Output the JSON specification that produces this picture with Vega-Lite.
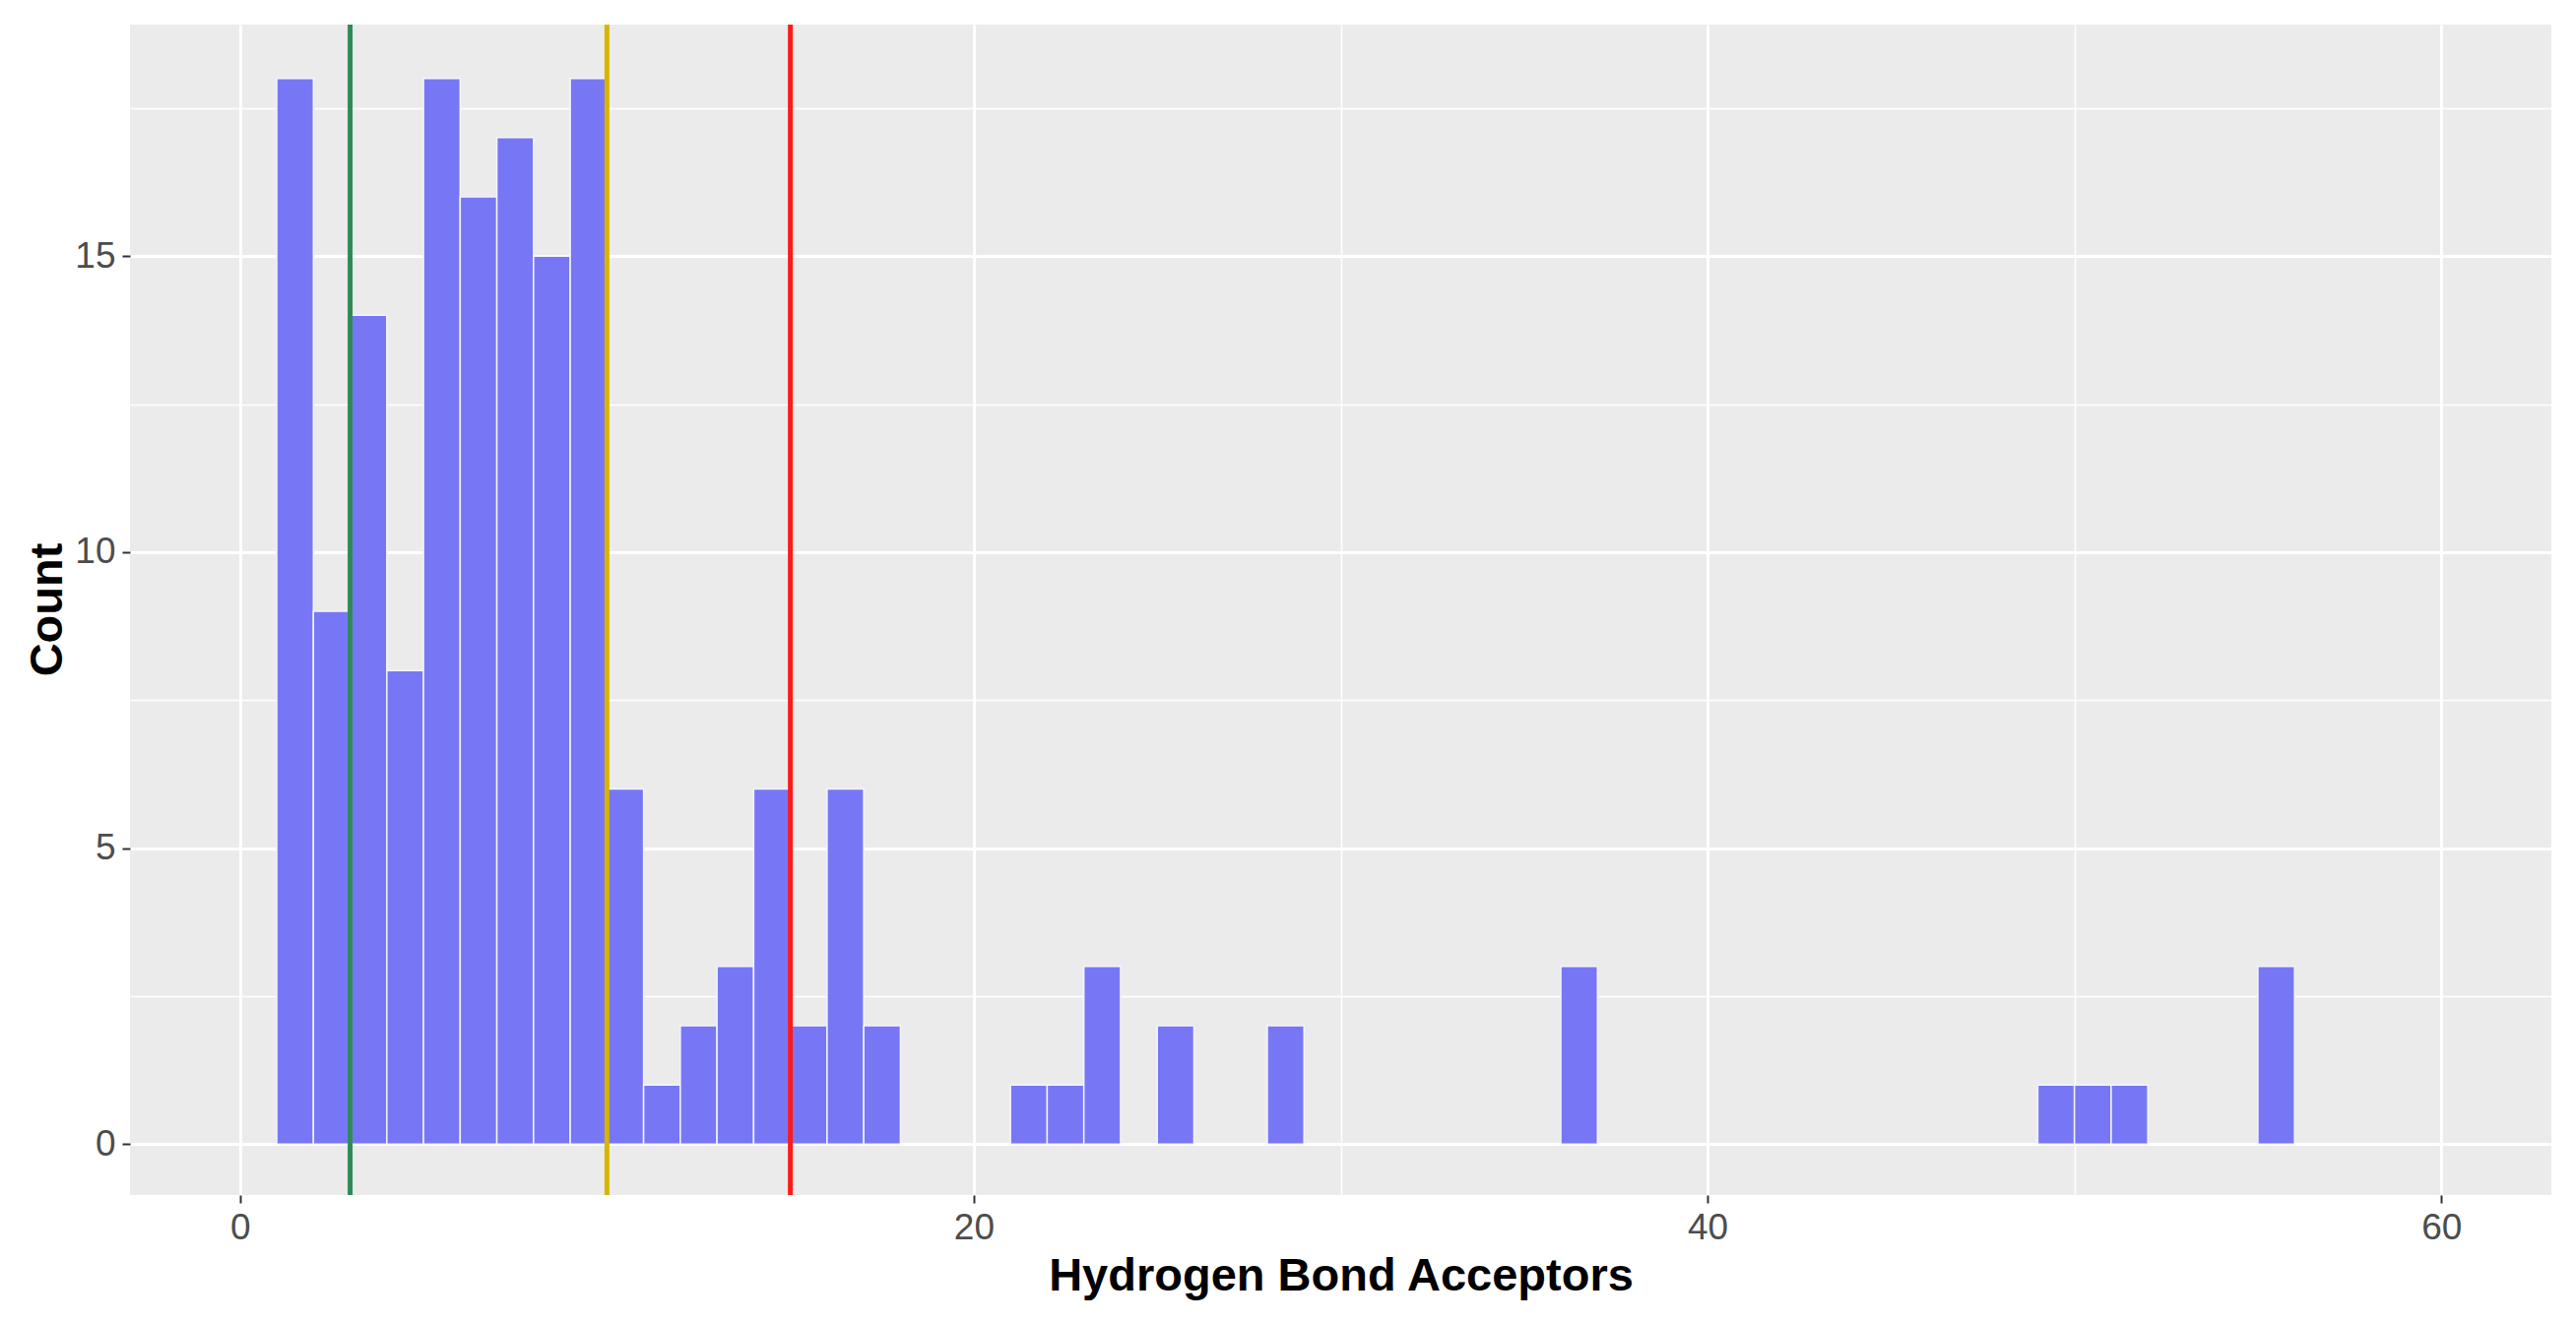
{
  "$schema": "https://vega.github.io/schema/vega-lite/v6.json",
  "width": 2459,
  "height": 1189,
  "autosize": "none",
  "padding": {"left": 132, "top": 25, "right": 25, "bottom": 130},
  "background": "white",
  "config": {
    "view": {"fill": "#EBEBEB", "stroke": null},
    "font": "Liberation Sans"
  },
  "layer": [
    {
      "data": {
        "values": [
          {"start": 1, "end": 2, "count": 18},
          {"start": 2, "end": 3, "count": 9},
          {"start": 3, "end": 4, "count": 14},
          {"start": 4, "end": 5, "count": 8},
          {"start": 5, "end": 6, "count": 18},
          {"start": 6, "end": 7, "count": 16},
          {"start": 7, "end": 8, "count": 17},
          {"start": 8, "end": 9, "count": 15},
          {"start": 9, "end": 10, "count": 18},
          {"start": 10, "end": 11, "count": 6},
          {"start": 11, "end": 12, "count": 1},
          {"start": 12, "end": 13, "count": 2},
          {"start": 13, "end": 14, "count": 3},
          {"start": 14, "end": 15, "count": 6},
          {"start": 15, "end": 16, "count": 2},
          {"start": 16, "end": 17, "count": 6},
          {"start": 17, "end": 18, "count": 2},
          {"start": 21, "end": 22, "count": 1},
          {"start": 22, "end": 23, "count": 1},
          {"start": 23, "end": 24, "count": 3},
          {"start": 25, "end": 26, "count": 2},
          {"start": 28, "end": 29, "count": 2},
          {"start": 36, "end": 37, "count": 3},
          {"start": 49, "end": 50, "count": 1},
          {"start": 50, "end": 51, "count": 1},
          {"start": 51, "end": 52, "count": 1},
          {"start": 55, "end": 56, "count": 3}
        ]
      },
      "mark": {
        "type": "bar",
        "color": "#7777F5",
        "stroke": "#F4F4FF",
        "strokeWidth": 1.5
      },
      "encoding": {
        "x": {
          "field": "start",
          "type": "quantitative",
          "scale": {"domain": [-3, 63], "nice": false, "zero": false},
          "axis": {
            "title": "Hydrogen Bond Acceptors",
            "values": [0, 10, 20, 30, 40, 50, 60],
            "labelExpr": "datum.value % 20 === 0 ? datum.label : ''",
            "domain": false,
            "grid": true,
            "gridColor": "white",
            "gridOpacity": 1,
            "gridWidth": {"condition": {"test": "datum.value % 20 === 0", "value": 3}, "value": 1.5},
            "tickOpacity": {"condition": {"test": "datum.value % 20 === 0", "value": 1}, "value": 0},
            "tickColor": "#333333",
            "tickWidth": 2,
            "tickSize": 8,
            "labelPadding": 7,
            "labelFlush": false,
            "labelOverlap": false,
            "labelFont": "Liberation Sans",
            "labelFontSize": 37,
            "labelColor": "#4D4D4D",
            "titleFont": "Liberation Sans",
            "titleFontSize": 47,
            "titleFontWeight": "bold",
            "titleColor": "black",
            "titleY": 96,
            "titleBaseline": "alphabetic"
          }
        },
        "x2": {"field": "end"},
        "y": {
          "field": "count",
          "type": "quantitative",
          "scale": {"domain": [-0.86, 18.91], "nice": false, "zero": false},
          "axis": {
            "title": "Count",
            "values": [0, 2.5, 5, 7.5, 10, 12.5, 15, 17.5],
            "labelExpr": "datum.value % 5 === 0 ? datum.label : ''",
            "domain": false,
            "grid": true,
            "gridColor": "white",
            "gridOpacity": 1,
            "gridWidth": {"condition": {"test": "datum.value % 5 === 0", "value": 3}, "value": 1.5},
            "tickOpacity": {"condition": {"test": "datum.value % 5 === 0", "value": 1}, "value": 0},
            "tickColor": "#333333",
            "tickWidth": 2,
            "tickSize": 8,
            "labelPadding": 7,
            "labelFlush": false,
            "labelOverlap": false,
            "labelFont": "Liberation Sans",
            "labelFontSize": 37,
            "labelColor": "#4D4D4D",
            "titleFont": "Liberation Sans",
            "titleFontSize": 47,
            "titleFontWeight": "bold",
            "titleColor": "black",
            "titleAngle": -90,
            "titleX": -70,
            "titleY": 594,
            "titleAlign": "center",
            "titleBaseline": "alphabetic"
          }
        },
        "y2": {"datum": 0}
      }
    },
    {
      "data": {
        "values": [
          {"cutoff": "low", "value": 3},
          {"cutoff": "mid", "value": 10},
          {"cutoff": "high", "value": 15}
        ]
      },
      "mark": {"type": "rule", "strokeWidth": 5},
      "encoding": {
        "x": {"field": "value", "type": "quantitative"},
        "color": {
          "field": "cutoff",
          "type": "nominal",
          "scale": {"domain": ["low", "mid", "high"], "range": ["#2E8B57", "#D6B400", "#FF1A1A"]},
          "legend": null
        }
      }
    }
  ]
}
